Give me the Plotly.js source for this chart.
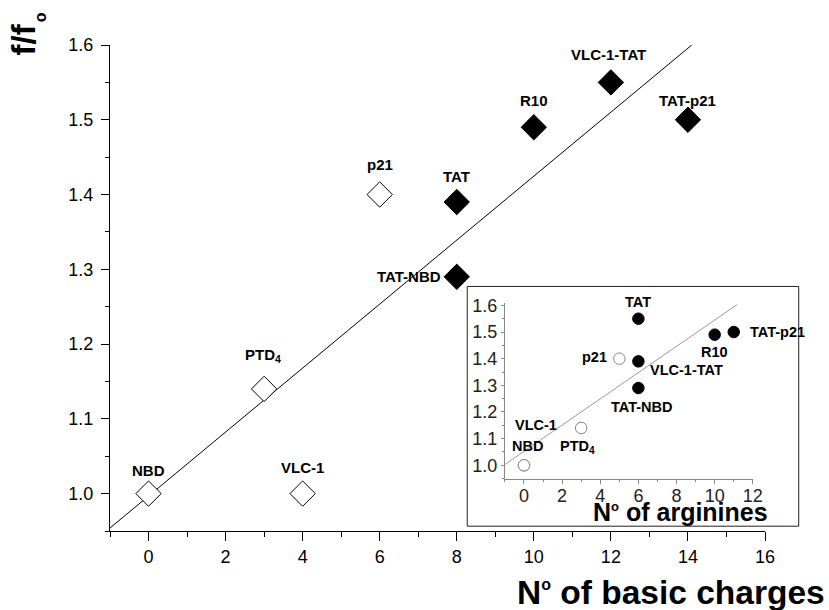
<!DOCTYPE html>
<html>
<head>
<meta charset="utf-8">
<script src="https://cdn.plot.ly/plotly-3.0.1.min.js"></script>
<style>html,body{margin:0;padding:0;background:#fff;}#chart{width:829px;height:610px;}</style>
</head>
<body>
<div id="chart"></div>
<script>
// ---- data ----
const peptides   = ['NBD', 'VLC-1', 'PTD4', 'p21', 'TAT', 'TAT-NBD', 'R10', 'VLC-1-TAT', 'TAT-p21'];
const labels     = ['NBD', 'VLC-1', 'PTD<sub>4</sub>', 'p21', 'TAT', 'TAT-NBD', 'R10', 'VLC-1-TAT', 'TAT-p21'];
const basicCharges = [0, 4, 3, 6, 8, 8, 10, 12, 14];
const arginines    = [0, 0, 3, 5, 6, 6, 10, 6, 11];
const ffo          = [1.00, 1.00, 1.14, 1.40, 1.39, 1.29, 1.49, 1.55, 1.50];
const isOpen       = [true, true, true, true, false, false, false, false, false];
// fitted lines
const fitMainX  = [-1, 14.1];
const fitMainY  = [0.954, 1.600];
const fitInsetX = [-1, 11.18];
const fitInsetY = [1.003, 1.603];

const FONT = 'Liberation Sans, Arial, Helvetica, sans-serif';

function pick(arr, cond) { return arr.filter((_, i) => cond(i)); }

const traces = [
  { x: fitMainX, y: fitMainY, mode: 'lines', line: {color: '#000', width: 1}, xaxis: 'x', yaxis: 'y', hoverinfo: 'skip' },
  { x: pick(basicCharges, i => isOpen[i]), y: pick(ffo, i => isOpen[i]), mode: 'markers',
    marker: {symbol: 'diamond', size: 19.5, color: '#fff', line: {color: '#000', width: 1}}, xaxis: 'x', yaxis: 'y' },
  { x: pick(basicCharges, i => !isOpen[i]), y: pick(ffo, i => !isOpen[i]), mode: 'markers',
    marker: {symbol: 'diamond', size: 19.5, color: '#000', line: {color: '#000', width: 1}}, xaxis: 'x', yaxis: 'y' },
  { x: fitInsetX, y: fitInsetY, mode: 'lines', line: {color: '#999', width: 1}, xaxis: 'x2', yaxis: 'y2', hoverinfo: 'skip' },
  { x: pick(arginines, i => isOpen[i]), y: pick(ffo, i => isOpen[i]), mode: 'markers',
    marker: {symbol: 'circle', size: 11.5, color: '#fff', line: {color: '#888', width: 1}}, xaxis: 'x2', yaxis: 'y2' },
  { x: pick(arginines, i => !isOpen[i]), y: pick(ffo, i => !isOpen[i]), mode: 'markers',
    marker: {symbol: 'circle', size: 11.5, color: '#000', line: {color: '#000', width: 1}}, xaxis: 'x2', yaxis: 'y2' }
];

// label placement (pixel offsets from the point)
const mainPos = {
  'NBD':      {dx: 0, dy: 23},
  'VLC-1':    {dx: 0, dy: 26},
  'PTD4':     {dx: -1.6, dy: 33},
  'p21':      {dx: 0, dy: 30},
  'TAT':      {dx: 0, dy: 25.6},
  'TAT-NBD':  {dx: -13.4, dy: 0, xanchor: 'right'},
  'R10':      {dx: 0, dy: 26.6},
  'VLC-1-TAT':{dx: -2.7, dy: 27.7},
  'TAT-p21':  {dx: 0, dy: 19.3}
};
// inset labels: [label index, attached point index, dx, dy, xanchor]
const insetPos = [
  [4, 7, 0, 16.6, 'center'],
  [8, 8, 14, 0, 'left'],
  [6, 6, 0, -17.4, 'center'],
  [3, 3, -10, 1.7, 'right'],
  [7, 4, 9.3, -9, 'left'],
  [5, 5, 2.7, -19.4, 'center'],
  [1, 1, 12.4, 40.7, 'center'],
  [0, 0, 3.4, 19, 'center'],
  [2, 2, -4, -19, 'center']
];

const annotations = [];
peptides.forEach((p, i) => {
  const pos = mainPos[p];
  annotations.push({
    xref: 'x', yref: 'y', x: basicCharges[i], y: ffo[i], text: '<b>' + labels[i] + '</b>',
    showarrow: false, xshift: pos.dx, yshift: pos.dy, xanchor: pos.xanchor || 'center', yanchor: 'middle',
    font: {family: FONT, size: 15, color: '#000'}
  });
});
insetPos.forEach(([li, pi, dx, dy, xa]) => {
  annotations.push({
    xref: 'x2', yref: 'y2', x: arginines[pi], y: ffo[pi], text: '<b>' + labels[li] + '</b>',
    showarrow: false, xshift: dx, yshift: dy, xanchor: xa, yanchor: 'middle',
    font: {family: FONT, size: 14.5, color: '#000'}
  });
});
// axis titles
annotations.push({
  xref: 'paper', yref: 'paper', x: 1.0945, y: -0.127, xanchor: 'right', yanchor: 'middle',
  text: '<b>N<sup><span style="font-size:16px">o</span></sup> of basic charges</b>', showarrow: false,
  font: {family: FONT, size: 33.5, color: '#000'}
});
annotations.push({
  xref: 'paper', yref: 'paper', x: -0.1319, y: 1.0105, xanchor: 'center', yanchor: 'middle', textangle: -90,
  text: '<b>f/f</b>', showarrow: false,
  font: {family: FONT, size: 33, color: '#000'}
});
annotations.push({
  xref: 'paper', yref: 'paper', x: -0.1066, y: 1.0576, xanchor: 'center', yanchor: 'middle', textangle: -90,
  text: '<b>o</b>', showarrow: false,
  font: {family: FONT, size: 16, color: '#000'}
});
annotations.push({
  xref: 'paper', yref: 'paper', x: 0.8716, y: 0.040, xanchor: 'center', yanchor: 'middle',
  text: '<b>N<sup><span style="font-size:13px">o</span></sup> of arginines</b>', showarrow: false,
  font: {family: FONT, size: 25, color: '#000'}
});

const layout = {
  width: 829, height: 610,
  margin: {l: 109.5, r: 63.5, t: 45, b: 78.5, pad: 0},
  paper_bgcolor: '#fff', plot_bgcolor: 'rgba(0,0,0,0)',
  showlegend: false,
  font: {family: FONT, color: '#000'},
  xaxis: {
    range: [-1, 16], domain: [0, 1], anchor: 'y',
    showline: true, linecolor: '#000', linewidth: 1, showgrid: false, zeroline: false,
    ticks: 'outside', ticklen: 9, tickwidth: 1, tickcolor: '#000', dtick: 2, tick0: 0,
    minor: {dtick: 1, ticks: 'outside', ticklen: 5, tickcolor: '#000', showgrid: false},
    tickfont: {family: FONT, size: 18, color: '#000'}
  },
  yaxis: {
    range: [0.95, 1.6], domain: [0, 1], anchor: 'x',
    showline: true, linecolor: '#000', linewidth: 1, showgrid: false, zeroline: false,
    ticks: 'outside', ticklen: 8, tickwidth: 1, tickcolor: '#000', dtick: 0.1, tick0: 1.0, tickformat: '.1f',
    minor: {dtick: 0.05, ticks: 'outside', ticklen: 4, tickcolor: '#000', showgrid: false},
    tickfont: {family: FONT, size: 18, color: '#000'}, ticklabelstandoff: 4
  },
  xaxis2: {
    range: [-1, 12], domain: [0.6029, 0.9814], anchor: 'y2',
    showline: true, linecolor: '#888', linewidth: 1, showgrid: false, zeroline: false,
    ticks: 'outside', ticklen: 4, tickwidth: 1, tickcolor: '#888', dtick: 2, tick0: 0,
    minor: {dtick: 1, ticks: 'outside', ticklen: 2, tickcolor: '#888', showgrid: false},
    tickfont: {family: FONT, size: 18, color: '#222'}, ticklabelstandoff: -3
  },
  yaxis2: {
    range: [0.949, 1.61], domain: [0.1073, 0.4697], anchor: 'x2',
    showline: true, linecolor: '#888', linewidth: 1, showgrid: false, zeroline: false,
    ticks: 'outside', ticklen: 3, tickwidth: 1, tickcolor: '#888', dtick: 0.1, tick0: 1.0, tickformat: '.1f',
    minor: {dtick: 0.05, ticks: 'outside', ticklen: 2, tickcolor: '#888', showgrid: false},
    tickfont: {family: FONT, size: 18, color: '#222'}
  },
  shapes: [{
    type: 'rect', xref: 'paper', yref: 'paper', x0: 0.5454, x1: 1.0515, y0: 0.0099, y1: 0.5032,
    line: {color: '#222', width: 1}, fillcolor: 'rgba(0,0,0,0)', layer: 'above'
  }],
  annotations: annotations
};

Plotly.newPlot('chart', traces, layout, {displayModeBar: false, staticPlot: true});
</script>
</body>
</html>
